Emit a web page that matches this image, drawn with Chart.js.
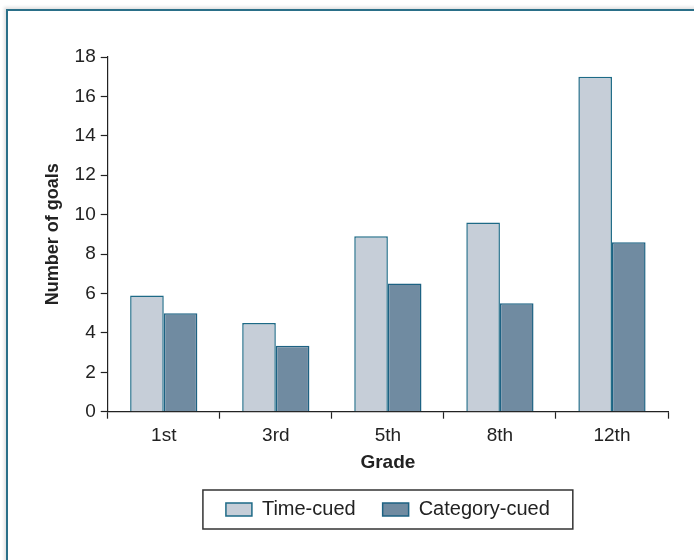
<!DOCTYPE html>
<html>
<head>
<meta charset="utf-8">
<script src="https://cdn.jsdelivr.net/npm/chart.js@4/dist/chart.umd.min.js"></script>
<style>
  html, body { margin: 0; padding: 0; background: #fff; }
  body { width: 694px; height: 560px; position: relative; overflow: hidden; }
  #frame {
    position: absolute; left: 6px; top: 9px; width: 720px; height: 600px;
    border-left: 2px solid #2a6f88; border-top: 2px solid #2a6f88;
    box-shadow: -2px -2px 3px rgba(0,0,0,0.12);
  }
  #wrap { position: absolute; left: 0; top: 0; width: 694px; height: 560px; }
</style>
</head>
<body>
<div id="frame"></div>
<div id="wrap"><canvas id="chart"></canvas></div>
<script>
// grades and goal counts per cue type
const grades = ["1st", "3rd", "5th", "8th", "12th"];
const timeCued = [5.9, 4.5, 8.9, 9.6, 17.0];
const categoryCued = [5.0, 3.35, 6.5, 5.5, 8.6];
const seriesNames = ["Time-cued", "Category-cued"];

Chart.defaults.font.family = "'Liberation Sans', Arial, sans-serif";
Chart.defaults.color = "#222";

// frame around the legend, like the printed figure
const legendFrame = {
  id: "legendFrame",
  afterDraw(chart) {
    const boxes = chart.legend.legendHitBoxes;
    if (!boxes || !boxes.length) return;
    const ctx = chart.ctx;
    const first = boxes[0];
    const last = boxes[boxes.length - 1];
    const x0 = first.left - 23;
    const x1 = last.left + last.width + 23;
    const yc = first.top + first.height / 2;
    ctx.save();
    ctx.strokeStyle = "#333";
    ctx.lineWidth = 1.5;
    ctx.strokeRect(x0, yc - 19.5, x1 - x0, 39);
    ctx.restore();
  }
};

const ctx = document.getElementById("chart").getContext("2d");
new Chart(ctx, {
  type: "bar",
  data: {
    labels: grades,
    datasets: [
      {
        label: seriesNames[0],
        data: timeCued,
        backgroundColor: "#c6ced8",
        borderColor: "#1d6a86",
        borderWidth: 1.5
      },
      {
        label: seriesNames[1],
        data: categoryCued,
        backgroundColor: "#708ba1",
        borderColor: "#1d6283",
        borderWidth: 1.5
      }
    ]
  },
  options: {
    responsive: true,
    maintainAspectRatio: false,
    animation: false,
    datasets: {
      bar: { categoryPercentage: 0.6, barPercentage: 1.0 }
    },
    layout: {
      padding: { top: 57, right: 26, bottom: 30.5, left: 36 }
    },
    plugins: {
      tooltip: { enabled: false },
      legend: {
        position: "bottom",
        fullSize: false,
        labels: {
          boxWidth: 26,
          boxHeight: 13,
          padding: 27,
          color: "#222",
          font: { size: 20 }
        }
      }
    },
    scales: {
      x: {
        grid: {
          offset: true,
          drawOnChartArea: false,
          drawTicks: true,
          tickLength: 7,
          tickColor: "#222",
          tickWidth: 1.2
        },
        border: { display: true, color: "#222", width: 1.2 },
        ticks: { padding: 6, font: { size: 19 }, color: "#222" },
        title: {
          display: true,
          text: "Grade",
          font: { size: 19, weight: "bold", lineHeight: 1.0 },
          color: "#222",
          padding: { top: 0, bottom: 0 }
        }
      },
      y: {
        min: 0,
        max: 18,
        grid: {
          drawOnChartArea: false,
          drawTicks: true,
          tickLength: 7,
          tickColor: "#222",
          tickWidth: 1.2
        },
        border: { display: true, color: "#222", width: 1.2 },
        ticks: { stepSize: 2, padding: 5, font: { size: 19 }, color: "#222" },
        title: {
          display: true,
          text: "Number of goals",
          font: { size: 18, weight: "bold" },
          color: "#222",
          padding: { top: 6, bottom: 6 }
        }
      }
    }
  },
  plugins: [legendFrame]
});
</script>
</body>
</html>
